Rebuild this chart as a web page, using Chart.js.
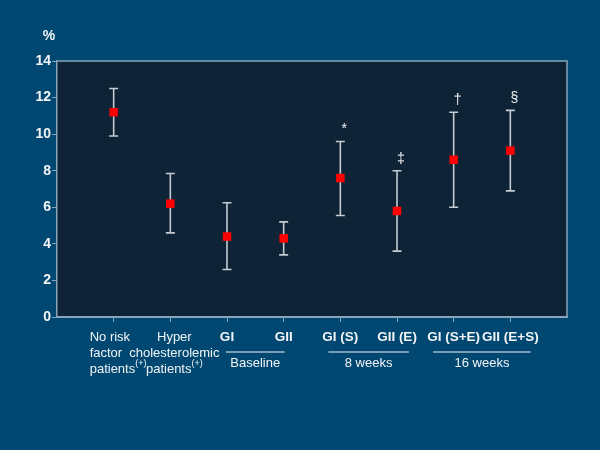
<!DOCTYPE html>
<html>
<head>
<meta charset="utf-8">
<script src="https://cdn.jsdelivr.net/npm/chart.js@4.4.0/dist/chart.umd.min.js"></script>
<style>
  html, body { margin: 0; padding: 0; background: #004872; }
  #wrap { width: 600px; height: 450px; }
</style>
</head>
<body>
<div id="wrap"><canvas id="chart" width="600" height="450"></canvas></div>
<script>
(function () {
  "use strict";

  // Data
  const categories = [
    ['No risk', 'factor', 'patients^(+)'],
    ['Hyper', 'cholesterolemic', 'patients^(+)'],
    ['GI'], ['GII'], ['GI (S)'], ['GII (E)'], ['GI (S+E)'], ['GII (E+S)']
  ];
  const meanValues  = [11.2, 6.2, 4.4, 4.3, 7.6, 5.8, 8.6, 9.1];
  const upperValues = [12.5, 7.85, 6.25, 5.2, 9.6, 8.0, 11.2, 11.3];
  const lowerValues = [9.9, 4.6, 2.6, 3.4, 5.55, 3.6, 6.0, 6.9];
  const markers     = ['', '', '', '', '*', '‡', '†', '§'];
  const groups = [
    { label: 'Baseline', first: 2, last: 3 },
    { label: '8 weeks',  first: 4, last: 5 },
    { label: '16 weeks', first: 6, last: 7 }
  ];
  const yTicks = [0, 2, 4, 6, 8, 10, 12, 14];

  const axisColor = '#86a4bc';
  const textColor = '#f2f4f6';
  const barColor  = '#c4ccd2';
  const FONT = 'Arial, "Liberation Sans", sans-serif';

  // plot background + error bars
  const backdrop = {
    id: 'backdrop',
    beforeDraw(chart) {
      const { ctx, chartArea: a } = chart;
      ctx.save();
      ctx.fillStyle = '#004872';
      ctx.fillRect(0, 0, chart.width, chart.height);
      ctx.fillStyle = '#0e2336';
      ctx.fillRect(a.left, a.top, a.right - a.left, a.bottom - a.top);
      ctx.strokeStyle = axisColor;
      ctx.lineWidth = 1.5;
      ctx.beginPath();
      ctx.moveTo(a.left, a.top);
      ctx.lineTo(a.right, a.top);
      ctx.lineTo(a.right, a.bottom);
      ctx.stroke();
      ctx.restore();
    },
    beforeDatasetsDraw(chart) {
      const { ctx } = chart;
      const xs = chart.scales.x, ys = chart.scales.y;
      ctx.save();
      ctx.strokeStyle = barColor;
      ctx.lineWidth = 1.6;
      meanValues.forEach((m, i) => {
        const x = xs.getPixelForValue(i + 1);
        const yt = ys.getPixelForValue(upperValues[i]);
        const yb = ys.getPixelForValue(lowerValues[i]);
        ctx.beginPath();
        ctx.moveTo(x, yt); ctx.lineTo(x, yb);
        ctx.moveTo(x - 4.5, yt); ctx.lineTo(x + 4.5, yt);
        ctx.moveTo(x - 4.5, yb); ctx.lineTo(x + 4.5, yb);
        ctx.stroke();
      });
      ctx.restore();
    }
  };

  // text: markers, x labels, groups, % label
  function drawRich(ctx, text, x, y, align, font, supFont) {
    const parts = text.split('^');
    ctx.font = font;
    const w0 = ctx.measureText(parts[0]).width;
    let w1 = 0;
    if (parts[1]) { ctx.font = supFont; w1 = ctx.measureText(parts[1]).width; }
    let left = align === 'left' ? x : x - (w0 + w1) / 2;
    ctx.textAlign = 'left';
    ctx.font = font;
    ctx.fillText(parts[0], left, y);
    if (parts[1]) {
      ctx.font = supFont;
      ctx.fillText(parts[1], left + w0, y - 5);
    }
  }

  const annotations = {
    id: 'annotations',
    afterDraw(chart) {
      const { ctx } = chart;
      const xs = chart.scales.x, ys = chart.scales.y;
      ctx.save();
      ctx.fillStyle = textColor;
      ctx.textBaseline = 'middle';

      // significance markers
      ctx.font = '14px ' + FONT;
      ctx.textAlign = 'center';
      markers.forEach((s, i) => {
        if (!s) return;
        const x = xs.getPixelForValue(i + 1) + 4;
        const y = ys.getPixelForValue(upperValues[i]) - 12;
        ctx.fillText(s, x, y);
      });

      // % label
      ctx.font = 'bold 14px ' + FONT;
      ctx.fillText('%', 49, 36);

      // category labels
      const base = chart.chartArea.bottom + 20;
      const lineH = 16;
      const rightEdges = [], leftEdges = [];
      categories.forEach((lines, i) => {
        const px = xs.getPixelForValue(i + 1);
        const multi = lines.length > 1;
        const font = multi ? '13px ' + FONT : 'bold 13.5px ' + FONT;
        lines.forEach((ln, k) => {
          if (i === 0) {
            drawRich(ctx, ln, px - 24, base + k * lineH, 'left', font, '9px ' + FONT);
          } else {
            drawRich(ctx, ln, multi ? px + 4 : px, base + k * lineH, 'center', font, '9px ' + FONT);
          }
        });
        ctx.font = font;
        const w = ctx.measureText(lines[0]).width;
        leftEdges[i] = px - w / 2;
        rightEdges[i] = px + w / 2;
      });

      // group underlines
      ctx.strokeStyle = textColor;
      ctx.lineWidth = 1;
      ctx.font = '13px ' + FONT;
      ctx.textAlign = 'center';
      groups.forEach(g => {
        const x1 = leftEdges[g.first] + 6;
        const x2 = rightEdges[g.last] - 8;
        const yl = base + 15;
        ctx.beginPath();
        ctx.moveTo(x1, yl); ctx.lineTo(x2, yl);
        ctx.stroke();
        ctx.fillText(g.label, (x1 + x2) / 2, yl + 11);
      });
      ctx.restore();
    }
  };

  const ctx = document.getElementById('chart').getContext('2d');
  new Chart(ctx, {
    type: 'scatter',
    data: {
      datasets: [{
        data: meanValues.map((v, i) => ({ x: i + 1, y: v })),
        pointStyle: 'rect',
        pointRadius: 6,
        pointHoverRadius: 6,
        pointBackgroundColor: '#ff0000',
        pointBorderColor: '#ff0000',
        pointBorderWidth: 0
      }]
    },
    options: {
      responsive: false,
      animation: false,
      layout: { padding: { left: 0, top: 61, right: 33, bottom: 0 } },
      plugins: { legend: { display: false }, tooltip: { enabled: false } },
      scales: {
        x: {
          type: 'linear',
          min: 0,
          max: 9,
          afterBuildTicks: (scale) => { scale.ticks = categories.map((c, i) => ({ value: i + 1 })); },
          afterFit: (scale) => { scale.height = 133; },
          ticks: { display: false },
          grid: { drawOnChartArea: false, drawTicks: true, tickLength: 5, color: axisColor, lineWidth: 1 },
          border: { color: axisColor, width: 2 }
        },
        y: {
          min: 0,
          max: 14,
          afterBuildTicks: (scale) => { scale.ticks = yTicks.map(v => ({ value: v })); },
          afterFit: (scale) => { scale.width = 57; },
          ticks: {
            color: textColor,
            padding: 1,
            font: { family: FONT, size: 14, weight: 'bold' }
          },
          grid: { drawOnChartArea: false, drawTicks: true, tickLength: 5, color: axisColor, lineWidth: 1 },
          border: { color: axisColor, width: 1.5 }
        }
      }
    },
    plugins: [backdrop, annotations]
  });
})();
</script>
</body>
</html>
